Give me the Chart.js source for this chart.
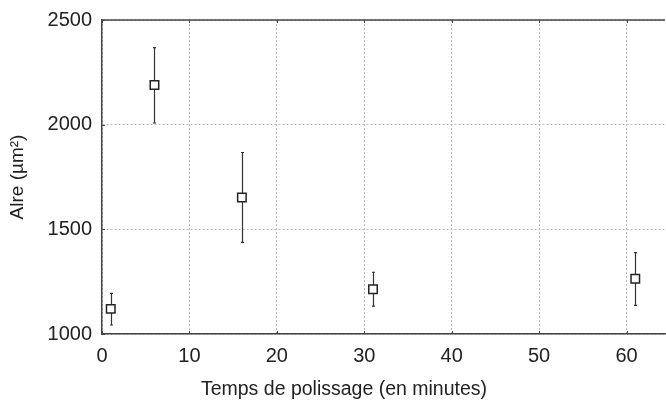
<!DOCTYPE html>
<html>
<head>
<meta charset="utf-8">
<script src="https://cdn.jsdelivr.net/npm/chart.js@4/dist/chart.umd.min.js"></script>
<style>
  html, body { margin: 0; padding: 0; background: #fff; }
  #wrap { width: 666px; height: 401px; }
</style>
</head>
<body>
<div id="wrap"><canvas id="aireChart" width="666" height="401"></canvas></div>
<script>
// temps de polissage (minutes) et aire moyenne avec barres d'erreur
const temps = [1, 6, 16, 31, 61];
const aire = [1120, 2190, 1652, 1214, 1264];
const aireMin = [1043, 2008, 1438, 1133, 1137];
const aireMax = [1194, 2368, 1867, 1295, 1389];
const xTicks = [0, 10, 20, 30, 40, 50, 60];
const yTicks = [1000, 1500, 2000, 2500];
const xTitre = 'Temps de polissage (en minutes)';

const fontFam = '"Liberation Sans", Arial, Helvetica, sans-serif';

const errorBars = {
    id: 'errorBars',
    beforeDatasetsDraw(chart) {
        const ctx = chart.ctx;
        const xs = chart.scales.x, ys = chart.scales.y;
        ctx.save();
        ctx.strokeStyle = '#333';
        ctx.lineWidth = 1.2;
        for (let i = 0; i < temps.length; i++) {
            const px = Math.round(xs.getPixelForValue(temps[i])) + 0.5;
            const y1 = ys.getPixelForValue(aireMin[i]);
            const y2 = ys.getPixelForValue(aireMax[i]);
            ctx.beginPath();
            ctx.moveTo(px, y1);
            ctx.lineTo(px, y2);
            ctx.moveTo(px - 1.5, y1);
            ctx.lineTo(px + 1.5, y1);
            ctx.moveTo(px - 1.5, y2);
            ctx.lineTo(px + 1.5, y2);
            ctx.stroke();
        }
        ctx.restore();
    },
    afterDraw(chart) {
        // cadre du haut, petites graduations vers l'intérieur, titre de l'axe x
        const ctx = chart.ctx;
        const a = chart.chartArea;
        const xs = chart.scales.x, ys = chart.scales.y;
        ctx.save();
        ctx.strokeStyle = '#444';
        ctx.lineWidth = 1.5;
        ctx.beginPath();
        ctx.moveTo(a.left, a.top);
        ctx.lineTo(a.right, a.top);
        ctx.stroke();
        ctx.lineWidth = 1;
        ctx.beginPath();
        xTicks.forEach(v => {
            const px = Math.round(xs.getPixelForValue(v)) + 0.5;
            ctx.moveTo(px, a.bottom);
            ctx.lineTo(px, a.bottom - 3);
            ctx.moveTo(px, a.top);
            ctx.lineTo(px, a.top + 3);
        });
        yTicks.forEach(v => {
            const py = Math.round(ys.getPixelForValue(v)) + 0.5;
            ctx.moveTo(a.left, py);
            ctx.lineTo(a.left + 3, py);
        });
        ctx.stroke();
        ctx.fillStyle = '#222';
        ctx.font = '19.5px ' + fontFam;
        ctx.textAlign = 'center';
        ctx.textBaseline = 'alphabetic';
        ctx.fillText(xTitre, a.left + 242, a.bottom + 61);
        ctx.restore();
    }
};

new Chart(document.getElementById('aireChart').getContext('2d'), {
    type: 'scatter',
    data: {
        datasets: [{
            data: temps.map((t, i) => ({ x: t, y: aire[i] })),
            pointStyle: 'rect',
            pointRadius: 6,
            pointHoverRadius: 6,
            pointBackgroundColor: '#fff',
            pointBorderColor: '#222',
            pointBorderWidth: 1.5,
            showLine: false
        }]
    },
    options: {
        responsive: false,
        animation: false,
        layout: { autoPadding: false, padding: { top: 19, right: 1, left: 0, bottom: 0 } },
        plugins: {
            legend: { display: false },
            tooltip: { enabled: false }
        },
        scales: {
            x: {
                type: 'linear',
                min: 0,
                max: 64.4,
                afterBuildTicks: s => { s.ticks = xTicks.map(v => ({ value: v })); },
                afterFit: s => { s.height = 67; },
                grid: { color: '#bdbdbd', drawTicks: false },
                border: { color: '#444', width: 1.5, dash: [2, 2] },
                ticks: { color: '#222', padding: 10, font: { family: fontFam, size: 20 }, callback: v => String(v) }
            },
            y: {
                min: 1000,
                max: 2500,
                afterBuildTicks: s => { s.ticks = yTicks.map(v => ({ value: v })); },
                afterFit: s => { s.width = 102; },
                grid: { color: '#bdbdbd', drawTicks: false },
                border: { color: '#444', width: 1.5, dash: [2, 2] },
                ticks: { color: '#222', padding: 10, font: { family: fontFam, size: 20, lineHeight: 1 }, callback: v => String(v) },
                title: {
                    display: true,
                    text: 'Alre (µm²)',
                    color: '#222',
                    padding: { bottom: 0, top: 6 },
                    font: { family: fontFam, size: 19 }
                }
            }
        }
    },
    plugins: [errorBars]
});
</script>
</body>
</html>
